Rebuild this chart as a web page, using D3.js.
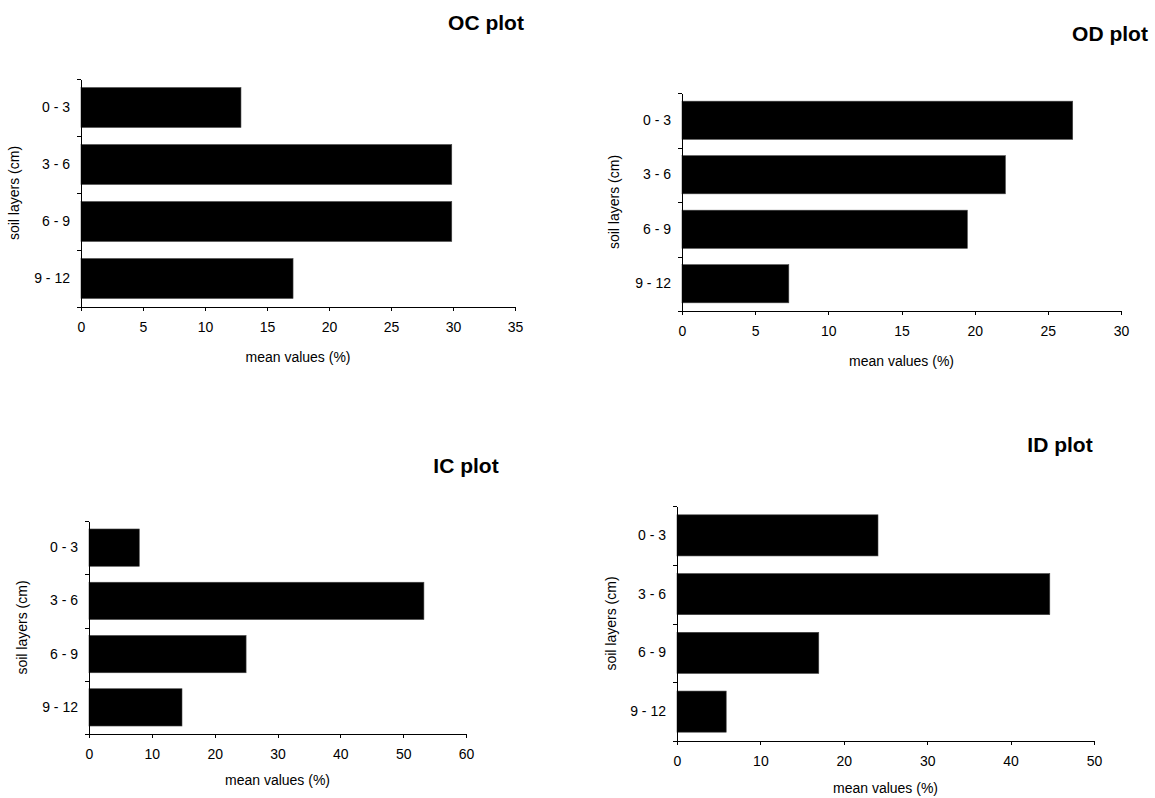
<!DOCTYPE html>
<html>
<head>
<meta charset="utf-8">
<script src="https://cdn.jsdelivr.net/npm/d3@7"></script>
<style>
  body { margin: 0; background: #fff; }
  svg text { font-family: "Liberation Sans", Arial, sans-serif; fill: #000; }
  .axis path, .axis line { stroke: #000; shape-rendering: crispEdges; }
</style>
</head>
<body>
<svg id="chart" width="1155" height="798"></svg>
<script>
// soil layers (categories, top to bottom)
const layers = ["0 - 3", "3 - 6", "6 - 9", "9 - 12"];

// mean values (%) per layer
const ocValues = [12.9, 29.9, 29.9, 17.1];
const odValues = [26.7, 22.1, 19.5, 7.3];
const icValues = [8.0, 53.3, 25.0, 14.8];
const idValues = [24.1, 44.7, 17.0, 5.9];

// x axis tick labels
const ocTicks = [0, 5, 10, 15, 20, 25, 30, 35];
const odTicks = [0, 5, 10, 15, 20, 25, 30];
const icTicks = [0, 10, 20, 30, 40, 50, 60];
const idTicks = [0, 10, 20, 30, 40, 50];

const titles = ["OC plot", "OD plot", "IC plot", "ID plot"];
const xTitle = "mean values (%)";
const yTitle = "soil layers (cm)";

// where each of the four plots sits on the page
const panels = [
  { title: titles[0], values: ocValues, ticks: ocTicks, left: 81,  right: 515,  top: 79,  bottom: 307, tx: 486,  ty: 22,  ylx: 14,  xly: 357 },
  { title: titles[1], values: odValues, ticks: odTicks, left: 682, right: 1121, top: 93,  bottom: 311, tx: 1110, ty: 33,  ylx: 614, xly: 361 },
  { title: titles[2], values: icValues, ticks: icTicks, left: 89,  right: 466,  top: 521, bottom: 734, tx: 466,  ty: 465, ylx: 22,  xly: 780 },
  { title: titles[3], values: idValues, ticks: idTicks, left: 677, right: 1094, top: 506, bottom: 741, tx: 1060, ty: 444, ylx: 611, xly: 788 }
];

const smallFont = "14px";

const svg = d3.select("#chart");

panels.forEach(p => {
  const g = svg.append("g");

  const x = d3.scaleLinear()
      .domain([0, d3.max(p.ticks)])
      .range([p.left, p.right]);

  const y = d3.scaleBand()
      .domain(layers)
      .range([p.top, p.bottom])
      .paddingInner(0.3)
      .paddingOuter(0.15);

  // bars
  g.selectAll(".bar")
      .data(p.values)
      .enter().append("rect")
      .attr("class", "bar")
      .attr("x", x(0))
      .attr("y", (d, i) => y(layers[i]))
      .attr("width", d => x(d) - x(0))
      .attr("height", y.bandwidth())
      .style("fill", "#000")
      .style("stroke", "#444")
      .style("stroke-width", 0.6);

  // x axis
  g.append("g")
      .attr("class", "axis")
      .attr("transform", `translate(0,${p.bottom})`)
      .call(d3.axisBottom(x).tickValues(p.ticks).tickSize(4).tickSizeOuter(0).tickPadding(11))
      .selectAll("text")
      .style("font-size", smallFont);

  // y axis: ticks sit on the band edges, labels in the middle
  const yEdge = d3.scaleLinear()
      .domain([0, layers.length])
      .range([p.top, p.bottom]);

  g.append("g")
      .attr("class", "axis")
      .attr("transform", `translate(${p.left},0)`)
      .call(d3.axisLeft(yEdge).tickValues(d3.range(layers.length + 1)).tickSize(4).tickSizeOuter(0).tickFormat(""));

  const yLabels = g.append("g")
      .attr("class", "axis")
      .attr("transform", `translate(${p.left},0)`)
      .call(d3.axisLeft(y).tickSize(0).tickPadding(11));
  yLabels.select(".domain").remove();
  yLabels.selectAll("text").style("font-size", smallFont);

  // titles
  g.append("text")
      .attr("x", p.tx)
      .attr("y", p.ty)
      .attr("text-anchor", "middle")
      .attr("dominant-baseline", "central")
      .style("font-size", "21px")
      .style("font-weight", "bold")
      .text(p.title);

  g.append("text")
      .attr("x", (p.left + p.right) / 2)
      .attr("y", p.xly)
      .attr("text-anchor", "middle")
      .attr("dominant-baseline", "central")
      .style("font-size", smallFont)
      .text(xTitle);

  g.append("text")
      .attr("transform", `translate(${p.ylx},${(p.top + p.bottom) / 2}) rotate(-90)`)
      .attr("text-anchor", "middle")
      .attr("dominant-baseline", "central")
      .style("font-size", smallFont)
      .text(yTitle);
});
</script>
</body>
</html>
